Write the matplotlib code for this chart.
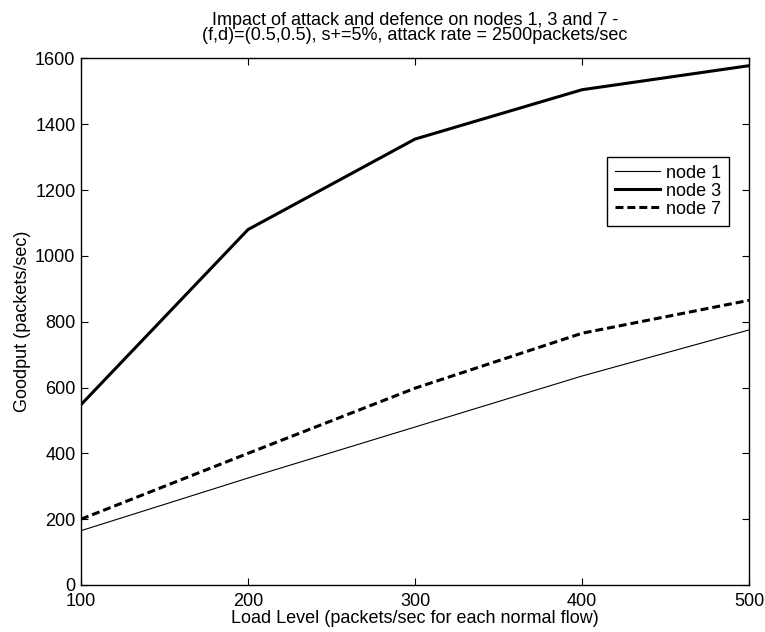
import matplotlib
matplotlib.use("Agg")
import matplotlib.pyplot as plt

# goodput per node for each load level
load = [100, 200, 300, 400, 500]
node1 = [165, 325, 480, 635, 775]
node3 = [548, 1080, 1355, 1505, 1578]
node7 = [200, 400, 598, 765, 865]

plt.rcParams['font.family'] = ['Liberation Sans', 'DejaVu Sans']
plt.rcParams['font.size'] = 13

fig = plt.figure(figsize=(7.65, 6.32), dpi=100)
ax = fig.add_axes([0.1059, 0.0744, 0.8732, 0.8331])

ax.plot(load, node1, color='black', linewidth=0.8, label='node 1')
ax.plot(load, node3, color='black', linewidth=2.2, label='node 3')
ax.plot(load, node7, color='black', linewidth=2.2, linestyle=(0, (2.6, 1.3)), label='node 7')

ax.set_xlim(100, 500)
ax.set_ylim(0, 1600)
ax.set_xticks([100, 200, 300, 400, 500])
ax.set_yticks(range(0, 1601, 200))
ax.tick_params(direction='in', top=True, right=True, length=5, pad=4)
ax.tick_params(axis='x', pad=6)
for s in ax.spines.values():
    s.set_linewidth(1.0)

ax.set_xlabel('Load Level (packets/sec for each normal flow)', labelpad=0)
ax.set_ylabel('Goodput (packets/sec)', labelpad=3)
ax.set_title('Impact of attack and defence on nodes 1, 3 and 7 -\n'
             '(f,d)=(0.5,0.5), s+=5%, attack rate = 2500packets/sec',
             fontsize=13, pad=13, linespacing=0.9)

leg = ax.legend(loc='upper left', bbox_to_anchor=(0.787, 0.8135), fancybox=False,
                edgecolor='black', framealpha=1, borderpad=0.45, labelspacing=0.05,
                handlelength=2.5, handletextpad=0.33, borderaxespad=0)
leg.get_frame().set_linewidth(1.0)

fig.savefig('out.png', dpi=100)
